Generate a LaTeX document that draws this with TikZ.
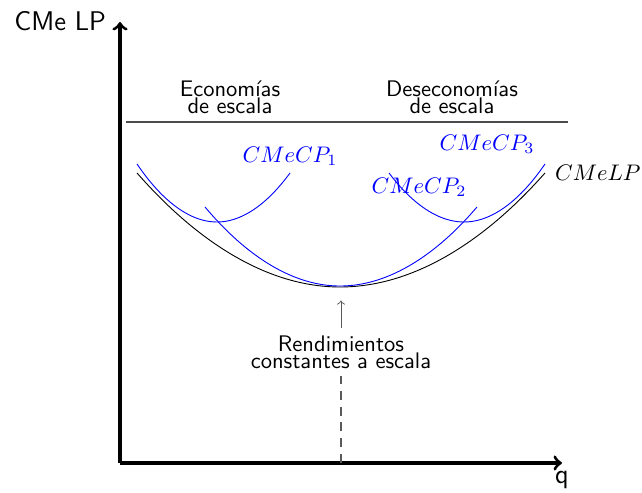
\documentclass[tikz,border=0pt]{standalone}
\usetikzlibrary{arrows,positioning}

\begin{document}
\begin{tikzpicture}[x=0.444pt, y=-0.444pt,
  eje/.style={line width=1.4pt, ->},
  corto/.style={blue},
  etq/.style={font=\sffamily\fontsize{10}{7.5}\selectfont, align=center}]
\useasboundingbox (0,0) rectangle (642,492);

% ejes
\coordinate (O) at (120,463);
\coordinate (ytop) at (120,22);
\coordinate (xtop) at (562,463);
\draw[eje] (O) -- (ytop);
\draw[eje] (O) -- (xtop);
\node[font=\sffamily\large, anchor=east] (ylab) at (114,21) {CMe LP};
\node[font=\sffamily\large, below=0pt of xtop] (xlab) {q};

% zonas
\draw[gray!60!black, line width=0.6pt] (126,122) -- (568,122);
\node[etq] (econ) at (230,97) {Economías\\de escala};
\node[etq] (desecon) at (452,97) {Deseconomías\\de escala};

% costo medio de largo plazo
\draw (137,173) parabola bend (340,287) (545,173) coordinate (lpfin);
\node[right=1pt of lpfin] (lplab) {$CMeLP$};

% costos medios de corto plazo
\draw[corto] (137,164) parabola bend (217,222) (290,173);
\draw[corto] (205,207) parabola bend (340,286) (477,207);
\draw[corto] (389,173) parabola bend (464,222) (545,164);
\node[blue] (cp1) at (290,156) {$CMeCP_1$};
\node[blue] (cp2) at (419,187) {$CMeCP_2$};
\node[blue] (cp3) at (487,144) {$CMeCP_3$};

% rendimientos constantes
\coordinate (minimo) at (341,287);
\coordinate (pie) at (341,463);
\node[etq] (rend) at (341,352) {Rendimientos\\constantes a escala};
\draw[gray!70!black, ->, shorten >=6pt] (rend) -- (minimo);
\draw[gray!70!black, line width=0.7pt, dash pattern=on 4pt off 3pt] (pie) -- (rend);
\end{tikzpicture}
\end{document}
